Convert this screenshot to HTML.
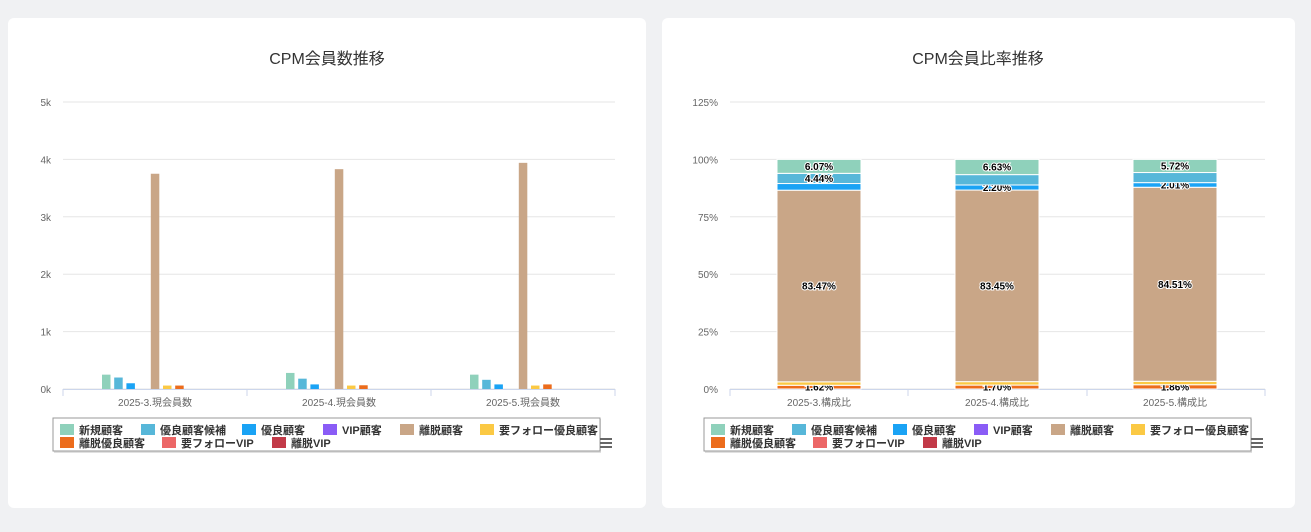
<!DOCTYPE html>
<html><head><meta charset="utf-8"><style>
body{margin:0;background:#f0f1f3;width:1311px;height:532px;overflow:hidden}
svg{display:block}
text{font-family:"Liberation Sans","Noto Sans CJK JP",sans-serif}
</style></head><body>
<svg id="s" width="1311" height="532" xmlns="http://www.w3.org/2000/svg">
<rect x="0" y="0" width="1311" height="532" fill="#f0f1f3"/>
<rect x="8" y="18" width="638" height="490" rx="6" fill="#fff"/>
<rect x="662" y="18" width="633" height="490" rx="6" fill="#fff"/>
<text x="327" y="64" text-anchor="middle" font-size="16" fill="#333">CPM会員数推移</text>
<text x="978" y="64" text-anchor="middle" font-size="16" fill="#333">CPM会員比率推移</text>
<g id="g"></g>
</svg>
<script>
const C=['#8fd1bb','#57b7d9','#1aa3f5','#8a5cf6','#c9a687','#fbc944','#ec6c1c','#ec6767','#c23a48'];
const N=['新規顧客','優良顧客候補','優良顧客','VIP顧客','離脱顧客','要フォロー優良顧客','離脱優良顧客','要フォローVIP','離脱VIP'];
let h='';
const y0=389,k=57.4;
for(let i=0;i<=5;i++){let y=y0-i*k;h+=`<line x1="63" x2="615" y1="${y}" y2="${y}" stroke="#e6e6e6"/><text x="51" y="${y+4}" text-anchor="end" font-size="10" fill="#666">${i}k</text>`;}
h+=`<line x1="63" x2="615" y1="389.5" y2="389.5" stroke="#ccd6eb"/>`;
[63,247,431,615].forEach(x=>h+=`<line x1="${x}" x2="${x}" y1="389" y2="396" stroke="#ccd6eb"/>`);
const LV=[[250,200,100,0,3750,60,60,0,0],[280,180,80,0,3830,60,65,0,0],[250,160,80,0,3940,60,80,0,0]];
const LB=['2025-3.現会員数','2025-4.現会員数','2025-5.現会員数'];
LV.forEach((v,g)=>{let gx=63+g*184;v.forEach((val,i)=>{if(!val)return;let hh=val/1000*k;h+=`<rect x="${gx+39+i*12.2}" y="${y0-hh}" width="8.5" height="${hh}" fill="${C[i]}"/>`;});
h+=`<text x="${gx+92}" y="406" text-anchor="middle" font-size="10" fill="#666">${LB[g]}</text>`;});
const P=['0%','25%','50%','75%','100%','125%'];
for(let i=0;i<=5;i++){let y=y0-i*k;h+=`<line x1="730" x2="1265" y1="${y}" y2="${y}" stroke="#e6e6e6"/><text x="718" y="${y+4}" text-anchor="end" font-size="10" fill="#666">${P[i]}</text>`;}
h+=`<line x1="730" x2="1265" y1="389.5" y2="389.5" stroke="#ccd6eb"/>`;
[730,908,1087,1265].forEach(x=>h+=`<line x1="${x}" x2="${x}" y1="389" y2="396" stroke="#ccd6eb"/>`);
const RV=[[6.07,4.44,2.9,0,83.47,1.5,1.62,0,0],[6.63,4.52,2.2,0,83.45,1.5,1.7,0,0],[5.72,4.4,2.01,0,84.51,1.5,1.86,0,0]];
const HIDE=[[2,5],[1,5],[1,5]];
const RB=['2025-3.構成比','2025-4.構成比','2025-5.構成比'];
const RX=[777,955,1133];
RV.forEach((v,g)=>{let x=RX[g];let cum=0;const sk=229.6/100;
for(let i=8;i>=0;i--){let val=v[i];if(!val)continue;let yb=y0-cum*sk;let hh=val*sk;cum+=val;
h+=`<rect x="${x}" y="${yb-hh}" width="84" height="${hh}" fill="${C[i]}" stroke="#fff" stroke-width="1"/>`;
if(!HIDE[g].includes(i)){let ly=yb-hh/2+3.5;let t=val.toFixed(2)+'%';h+=`<text x="${x+42}" y="${ly}" text-anchor="middle" font-size="10" font-weight="bold" fill="#000" stroke="#fff" stroke-width="2" paint-order="stroke">${t}</text>`;}}
h+=`<text x="${x+42}" y="406" text-anchor="middle" font-size="10" fill="#666">${RB[g]}</text>`;});
const OFF=[0,81,182,263,340,420],OFF2=[0,102,212];
[[53,418],[704,418]].forEach(([lx,ly])=>{
h+=`<rect x="${lx+1}" y="${ly+1}" width="547" height="34" fill="#000" opacity="0.12"/><rect x="${lx}" y="${ly}" width="547" height="33" fill="#fff" stroke="#999"/>`;
for(let i=0;i<9;i++){let r=i<6?0:1;let ox=r?OFF2[i-6]:OFF[i];let sx=lx+7+ox,sy=ly+6+r*13;
h+=`<rect x="${sx}" y="${sy}" width="14" height="11" fill="${C[i]}"/><text x="${sx+19}" y="${sy+10}" font-size="11" font-weight="bold" fill="#333">${N[i]}</text>`;}
h+=`<g fill="#666"><rect x="${lx+547}" y="${ly+20}" width="12" height="2"/><rect x="${lx+547}" y="${ly+24}" width="12" height="2"/><rect x="${lx+547}" y="${ly+28}" width="12" height="2"/></g>`;});
document.getElementById('g').innerHTML=h;
</script>
</body></html>
